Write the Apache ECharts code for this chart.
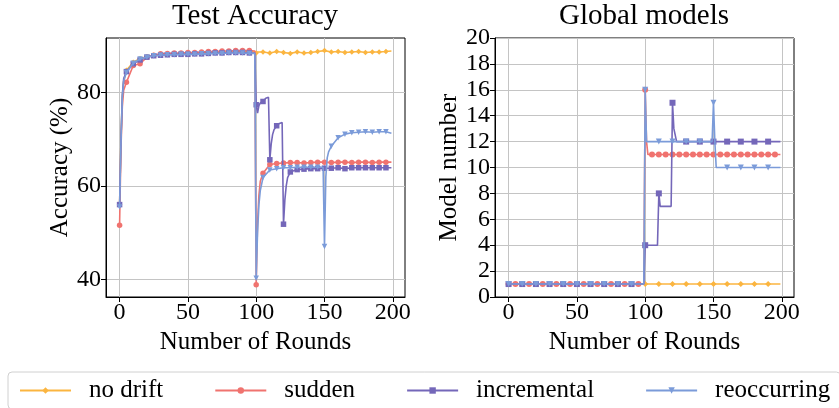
<!DOCTYPE html>
<html>
<head>
<meta charset="utf-8">
<script src="https://cdn.jsdelivr.net/npm/echarts@6/dist/echarts.min.js"></script>
<style>
  html, body { margin: 0; padding: 0; background: #fff; }
  #chart { width: 839px; height: 408px; }
</style>
</head>
<body>
<div id="chart"></div>
<script>
const seriesNames = ['no drift', 'sudden', 'incremental', 'reoccurring'];
const colors = ['#fbb540', '#f0736f', '#7467b9', '#7b9bd9'];
const symbols = ['diamond', 'circle', 'rect', 'triangle'];

const roundTicks = [0, 50, 100, 150, 200];
const accTicks = [40, 60, 80];

// Test accuracy (%), [round, value]
const accNoDrift = [[0,56],[1,70],[2,79],[3,82.5],[5,84.8],[10,86.5],[15,87.3],[20,87.7],[25,88.0],[30,88.1],[35,88.2],[40,88.3],[45,88.3],[50,88.4],[55,88.5],[60,88.5],[65,88.6],[70,88.6],[75,88.7],[80,88.7],[85,88.7],[90,88.8],[95,88.8],[99,88.7],[100,88.5],[105,88.7],[110,88.5],[115,88.8],[120,88.6],[125,88.4],[130,88.7],[135,88.5],[140,88.6],[145,88.8],[150,89.0],[155,88.7],[160,88.8],[165,88.6],[170,88.7],[175,88.8],[180,88.6],[185,88.7],[190,88.7],[195,88.8],[199,88.9]];
const accSudden = [[0,51.6],[1,68],[2,77],[3,80.5],[5,82.2],[10,85.8],[15,86.2],[20,87.6],[25,88.0],[30,88.3],[35,88.4],[40,88.5],[45,88.5],[50,88.6],[55,88.6],[60,88.7],[65,88.8],[70,88.8],[75,88.9],[80,88.9],[85,89.0],[90,89.0],[95,89.0],[99,88.9],[100,38.8],[101,52],[102,58],[103,61],[105,62.7],[110,64.6],[115,64.8],[120,64.9],[125,65.0],[130,65.0],[135,64.9],[140,65.0],[145,65.1],[150,65.1],[155,65.0],[160,65.1],[165,65.1],[170,65.0],[175,65.1],[180,65.1],[185,65.0],[190,65.1],[195,65.1],[199,65.1]];
const accIncremental = [[0,56],[1,70],[2,79.5],[3,83],[5,84.5],[10,86.2],[15,87.0],[20,87.6],[25,87.9],[30,88.0],[35,88.1],[40,88.2],[45,88.2],[50,88.2],[55,88.3],[60,88.3],[65,88.4],[70,88.5],[75,88.5],[80,88.6],[85,88.6],[90,88.6],[95,88.5],[99,88.5],[100,77.4],[101,75.6],[102,77.2],[103,77.8],[105,78.1],[107,78.8],[108,79.0],[109,79.0],[110,65.6],[111,69],[112,71],[113,72],[115,72.9],[117,73.4],[118,73.6],[119,73.6],[120,51.8],[121,57],[122,60],[123,61.8],[125,63.0],[130,63.5],[135,63.6],[140,63.7],[145,63.7],[150,63.8],[155,63.8],[160,63.9],[165,63.7],[170,63.9],[175,63.9],[180,63.9],[185,63.9],[190,63.9],[195,63.9],[199,63.9]];
const accReoccurring = [[0,55.5],[1,69],[2,79],[3,82.5],[5,84.3],[10,86.3],[15,87.2],[20,87.6],[25,87.9],[30,88.0],[35,88.1],[40,88.1],[45,88.2],[50,88.2],[55,88.2],[60,88.3],[65,88.3],[70,88.4],[75,88.4],[80,88.5],[85,88.5],[90,88.5],[95,88.4],[99,88.4],[100,40.2],[101,50],[102,56],[103,59],[105,61.8],[110,63.4],[115,63.7],[120,63.9],[125,63.9],[130,64.0],[135,64.0],[140,64.0],[145,64.0],[149,64.0],[150,47.0],[151,62],[152,66],[153,67.3],[155,68.5],[160,70.3],[165,71.1],[170,71.4],[175,71.5],[180,71.6],[185,71.5],[190,71.6],[195,71.6],[199,71.3]];

// Global model number, [round, value]
const modelsNoDrift = [[0,1],[10,1],[20,1],[30,1],[40,1],[50,1],[60,1],[70,1],[80,1],[90,1],[100,1],[110,1],[120,1],[130,1],[140,1],[150,1],[160,1],[170,1],[180,1],[190,1],[199,1]];
const modelsSudden = [[0,1],[5,1],[10,1],[15,1],[20,1],[25,1],[30,1],[35,1],[40,1],[45,1],[50,1],[55,1],[60,1],[65,1],[70,1],[75,1],[80,1],[85,1],[90,1],[95,1],[99,1],[100,16],[101,12],[102,11],[105,11],[110,11],[115,11],[120,11],[125,11],[130,11],[135,11],[140,11],[145,11],[150,11],[155,11],[160,11],[165,11],[170,11],[175,11],[180,11],[185,11],[190,11],[195,11],[199,11]];
const modelsIncremental = [[0,1],[10,1],[20,1],[30,1],[40,1],[50,1],[60,1],[70,1],[80,1],[90,1],[99,1],[100,4],[109,4],[110,8],[111,7],[119,7],[120,15],[121,13],[122,13],[123,12],[130,12],[140,12],[150,12],[160,12],[170,12],[180,12],[190,12],[199,12]];
const modelsReoccurring = [[0,1],[10,1],[20,1],[30,1],[40,1],[50,1],[60,1],[70,1],[80,1],[90,1],[99,1],[100,16],[101,12],[110,12],[120,12],[130,12],[140,12],[149,12],[150,15],[151,12],[152,10],[160,10],[170,10],[180,10],[190,10],[199,10]];

const accData = [accNoDrift, accSudden, accIncremental, accReoccurring];
const modelData = [modelsNoDrift, modelsSudden, modelsIncremental, modelsReoccurring];
const modelMarkEvery = [10, 5, 10, 10];

const FONT = '"Liberation Serif", "Times New Roman", serif';

function makeSeries(i, data, axisIdx, every, size) {
  return {
    name: seriesNames[i],
    type: 'line',
    xAxisIndex: axisIdx,
    yAxisIndex: axisIdx,
    data: data,
    color: colors[i],
    symbol: symbols[i],
    symbolRotate: i === 3 ? 180 : 0,
    symbolSize: v => (v[0] % every === 0 ? size : 0),
    lineStyle: { width: 1.6 },
    itemStyle: { color: colors[i] },
    emphasis: { disabled: true },
    z: 2 + i
  };
}

function xAxis(gridIndex) {
  return {
    type: 'value',
    gridIndex: gridIndex,
    min: -9.95,
    max: 208.95,
    name: 'Number of Rounds',
    nameLocation: 'middle',
    nameGap: 26,
    nameTextStyle: { fontFamily: FONT, fontSize: 25, color: '#000' },
    axisLine: { show: true, onZero: false, lineStyle: { color: '#000', width: 1 } },
    axisTick: { show: true, customValues: roundTicks, length: 5, lineStyle: { color: '#000' } },
    axisLabel: { customValues: roundTicks, fontFamily: FONT, fontSize: 24, color: '#000', margin: 4 },
    splitLine: { show: true, lineStyle: { color: '#c4c4c4', width: 1 } }
  };
}

const series = [];
for (let i = 0; i < 4; i++) series.push(makeSeries(i, accData[i], 0, 5, 5.5));
for (let i = 0; i < 4; i++) series.push(makeSeries(i, modelData[i], 1, modelMarkEvery[i], 6));

const option = {
  animation: false,
  backgroundColor: '#fff',
  title: [
    { text: 'Test Accuracy', left: 250, top: -3, textAlign: 'center',
      textStyle: { fontFamily: FONT, fontSize: 29, fontWeight: 'normal', color: '#000' } },
    { text: 'Global models', left: 639, top: -3, textAlign: 'center',
      textStyle: { fontFamily: FONT, fontSize: 29, fontWeight: 'normal', color: '#000' } }
  ],
  legend: {
    data: seriesNames,
    left: 8,
    top: 372,
    width: 900,
    padding: [6, 10, 6, 11],
    itemWidth: 51,
    itemHeight: 8,
    itemGap: 51,
    borderColor: '#d0d0d0',
    borderWidth: 1,
    borderRadius: 4,
    textStyle: { fontFamily: FONT, fontSize: 25, color: '#000', padding: [0, 0, 0, 13] }
  },
  grid: [
    { left: 106, top: 38, width: 299, height: 259, show: true, borderColor: '#000', borderWidth: 1 },
    { left: 495, top: 38, width: 299, height: 259, show: true, borderColor: '#000', borderWidth: 1 }
  ],
  xAxis: [xAxis(0), xAxis(1)],
  yAxis: [
    {
      type: 'value', gridIndex: 0, min: 36.2, max: 91.7,
      name: 'Accuracy (%)', nameLocation: 'middle', nameGap: 32,
      nameTextStyle: { fontFamily: FONT, fontSize: 25, color: '#000' },
      axisLine: { show: true, onZero: false, lineStyle: { color: '#000', width: 1 } },
      axisTick: { show: true, customValues: accTicks, length: 5, lineStyle: { color: '#000' } },
      axisLabel: { customValues: accTicks, fontFamily: FONT, fontSize: 24, color: '#000', margin: 5 },
      splitLine: { show: true, lineStyle: { color: '#c4c4c4', width: 1 } }
    },
    {
      type: 'value', gridIndex: 1, min: 0, max: 20, interval: 2,
      name: 'Model number', nameLocation: 'middle', nameGap: 28,
      nameTextStyle: { fontFamily: FONT, fontSize: 25, color: '#000' },
      axisLine: { show: true, onZero: false, lineStyle: { color: '#000', width: 1 } },
      axisTick: { show: true, length: 5, lineStyle: { color: '#000' } },
      axisLabel: { fontFamily: FONT, fontSize: 24, color: '#000', margin: 5 },
      splitLine: { show: true, lineStyle: { color: '#c4c4c4', width: 1 } }
    }
  ],
  series: series
};

echarts.init(document.getElementById('chart')).setOption(option);
</script>
</body>
</html>
